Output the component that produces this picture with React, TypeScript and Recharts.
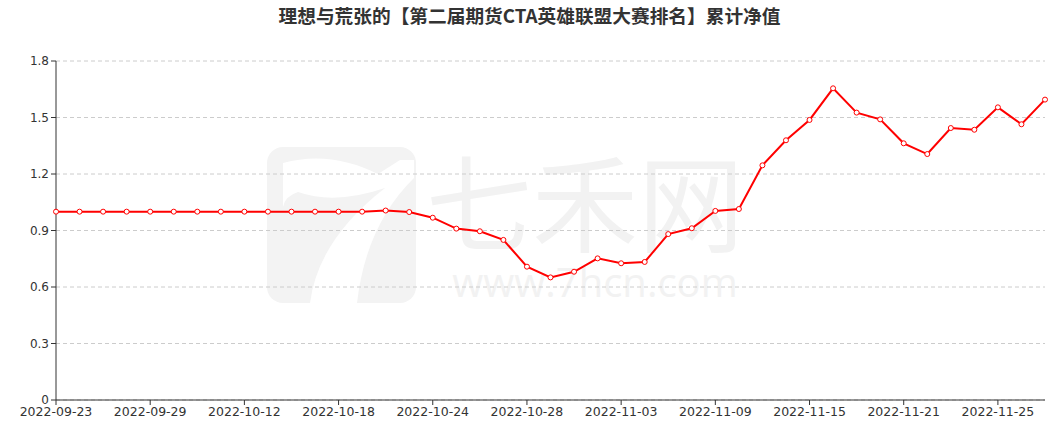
import React from "react";
import {
  LineChart,
  Line,
  XAxis,
  YAxis,
  CartesianGrid,
} from "recharts";

const dates = [
  "2022-09-23", "2022-09-26", "2022-09-27", "2022-09-28", "2022-09-29",
  "2022-09-30", "2022-10-10", "2022-10-11", "2022-10-12", "2022-10-13",
  "2022-10-14", "2022-10-17", "2022-10-18", "2022-10-19", "2022-10-20",
  "2022-10-21", "2022-10-24", "2022-10-25", "2022-10-26", "2022-10-27",
  "2022-10-28", "2022-10-31", "2022-11-01", "2022-11-02", "2022-11-03",
  "2022-11-04", "2022-11-07", "2022-11-08", "2022-11-09", "2022-11-10",
  "2022-11-11", "2022-11-14", "2022-11-15", "2022-11-16", "2022-11-17",
  "2022-11-18", "2022-11-21", "2022-11-22", "2022-11-23", "2022-11-24",
  "2022-11-25", "2022-11-28", "2022-11-29",
];

const netValues = [
  1.0, 1.0, 1.0, 1.0, 1.0, 1.0, 1.0, 1.0, 1.0, 1.0,
  1.0, 1.0, 1.0, 1.0, 1.006, 0.998, 0.968, 0.91, 0.896, 0.85,
  0.708, 0.651, 0.681, 0.752, 0.726, 0.733, 0.881, 0.912, 1.004, 1.014,
  1.246, 1.379, 1.487, 1.655, 1.526, 1.49, 1.363, 1.306, 1.444, 1.435,
  1.554, 1.464, 1.595,
];

const yTicks = [0, 0.3, 0.6, 0.9, 1.2, 1.5, 1.8];

const title = "理想与荒张的【第二届期货CTA英雄联盟大赛排名】累计净值";

const data = dates.map((d, i) => ({ date: d, value: netValues[i] }));

const font = "'DejaVu Sans', sans-serif";
const cjk = "'Noto Sans CJK SC', sans-serif";

// faint site watermark behind the plot
function Watermark() {
  return (
    <>
      <svg
        width={1059}
        height={426}
        style={{ position: "absolute", left: 0, top: 0 }}
      >
        <rect x={267} y={147} width={149} height={156} rx={16} fill="#f3f3f3" />
        <path
          d="M283,163 Q330,150 378,174 L400,160 L414,160 L414,178 Q366,225 357,303 L310,303 Q318,240 385,188 Q335,205 298,192 Q285,196 283,207 Z"
          fill="#fff"
        />
      </svg>
      <div
        style={{
          position: "absolute",
          left: 415,
          top: 140,
          width: 340,
          textAlign: "center",
          whiteSpace: "nowrap",
          color: "#f2f2f2",
          fontSize: 106,
          lineHeight: "116px",
          fontFamily: cjk,
        }}
      >
        七禾网
      </div>
      <div
        style={{
          position: "absolute",
          left: 440,
          top: 260,
          width: 310,
          textAlign: "center",
          whiteSpace: "nowrap",
          color: "#f2f2f2",
          fontSize: 40,
          lineHeight: "44px",
          fontFamily: "'Open Sans', sans-serif",
        }}
      >
        www.7hcn.com
      </div>
    </>
  );
}

export default function App() {
  return (
    <div
      style={{
        position: "absolute",
        left: 0,
        top: 0,
        width: 1059,
        height: 426,
        background: "#fff",
        fontFamily: font,
        overflow: "hidden",
      }}
    >
      <div
        style={{
          position: "absolute",
          top: 1,
          left: 0,
          width: 1059,
          textAlign: "center",
          whiteSpace: "nowrap",
          fontSize: 18.7,
          fontWeight: "bold",
          color: "#333",
          fontFamily: cjk,
        }}
      >
        {title}
      </div>
      <Watermark />
      <div style={{ position: "absolute", left: 0, top: 0 }}>
        <LineChart
          width={1059}
          height={426}
          data={data}
          margin={{ top: 61, right: 14, bottom: 0, left: 0 }}
          style={{ fontFamily: font }}
        >
          <CartesianGrid
            vertical={false}
            stroke="#ccc"
            strokeDasharray="4 3"
          />
          <XAxis
            dataKey="date"
            interval={3}
            tick={{ fill: "#333", fontSize: 12.5 }}
            tickSize={5}
            axisLine={{ stroke: "#333" }}
            tickLine={{ stroke: "#333" }}
            height={26}
            tickMargin={2}
          />
          <YAxis
            domain={[0, 1.8]}
            ticks={yTicks}
            width={56}
            tick={{ fill: "#333", fontSize: 12 }}
            tickSize={5}
            axisLine={{ stroke: "#333" }}
            tickLine={{ stroke: "#333" }}
            tickFormatter={(v: number) => String(v)}
          />
          <Line
            type="linear"
            dataKey="value"
            stroke="#ff0000"
            strokeWidth={2}
            dot={{ r: 2.5, fill: "#fff", stroke: "#ff0000", strokeWidth: 1 }}
            isAnimationActive={false}
          />
        </LineChart>
      </div>
    </div>
  );
}
